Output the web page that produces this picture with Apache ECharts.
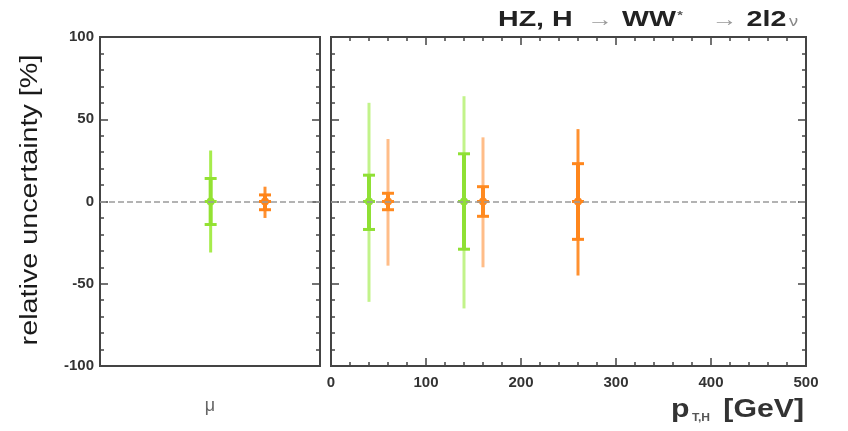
<!DOCTYPE html>
<html><head><meta charset="utf-8">
<script src="https://cdn.jsdelivr.net/npm/echarts@6/dist/echarts.min.js"></script>
<style>html,body{margin:0;padding:0;background:#fff}#c{width:848px;height:431px}</style>
</head><body><div id="c"></div>
<script>
// ---- data ----
const yTicks = [-100, -50, 0, 50, 100];
const xTicks = [0, 100, 200, 300, 400, 500];
// left panel (mu): [position, outerLo, outerHi, innerLo, innerHi]
const muGreen = [[0.503, -31, 31, -14, 14]];
const muOrange = [[0.75, -10, 9, -5, 4]];
// right panel (pT,H)
const ptGreenPos = [40, 140];
const ptGreenOuterLo = [-61, -65];
const ptGreenOuterHi = [60, 64];
const ptGreenInnerLo = [-17, -29];
const ptGreenInnerHi = [16, 29];
const ptOrangePos = [60, 160];
const ptOrangeOuterLo = [-39, -40];
const ptOrangeOuterHi = [38, 39];
const ptOrangeInnerLo = [-5, -9];
const ptOrangeInnerHi = [5, 9];
const ptOrangeDarkPos = [260];
const ptOrangeDarkOuterLo = [-45];
const ptOrangeDarkOuterHi = [44];
const ptOrangeDarkInnerLo = [-23];
const ptOrangeDarkInnerHi = [23];

function rows(pos, ol, oh, il, ih) { return pos.map((p, i) => [p, ol[i], oh[i], il[i], ih[i]]); }

function render(outerColor, innerColor) {
  return function (params, api) {
    const x = api.value(0);
    const c = api.coord([x, 0]);
    const oL = api.coord([x, api.value(1)])[1], oH = api.coord([x, api.value(2)])[1];
    const iL = api.coord([x, api.value(3)])[1], iH = api.coord([x, api.value(4)])[1];
    const cx = c[0];
    return {type: 'group', children: [
      {type: 'line', shape: {x1: cx, y1: oL, x2: cx, y2: oH}, style: {stroke: outerColor, lineWidth: 3}},
      {type: 'line', shape: {x1: cx, y1: iL, x2: cx, y2: iH}, style: {stroke: innerColor, lineWidth: 4}},
      {type: 'line', shape: {x1: cx - 6, y1: iL, x2: cx + 6, y2: iL}, style: {stroke: innerColor, lineWidth: 3}},
      {type: 'line', shape: {x1: cx - 6, y1: iH, x2: cx + 6, y2: iH}, style: {stroke: innerColor, lineWidth: 3}},
      {type: 'line', shape: {x1: cx - 6, y1: c[1], x2: cx + 6, y2: c[1]}, style: {stroke: innerColor, lineWidth: 3}},
      {type: 'circle', shape: {cx: cx, cy: c[1], r: 4}, style: {fill: innerColor}}
    ]};
  };
}

const axisCol = '#444';
const tickStyle = {show: true, inside: true, length: 8, lineStyle: {color: axisCol, width: 1.5}};
const minorStyle = {show: true, splitNumber: 5, length: 4, lineStyle: {color: axisCol, width: 1.5}};
function yAx(grid, pos, labels) {
  return {
    type: 'value', gridIndex: grid, position: pos, min: -100, max: 100, interval: 50,
    axisLine: {show: false, onZero: false},
    axisTick: tickStyle, minorTick: minorStyle,
    splitLine: {show: false},
    axisLabel: {show: labels, margin: 6, color: '#333', fontWeight: 'bold', fontSize: 15, fontFamily: 'Liberation Sans'}
  };
}

const zeroLine = {silent: true, symbol: 'none', label: {show: false},
  lineStyle: {color: '#9a9a9a', type: [6, 3], width: 1.5}, data: [{yAxis: 0}]};

const option = {
  animation: false,
  backgroundColor: '#fff',
  grid: [
    {left: 100, top: 37, width: 220, height: 329, show: true, borderColor: axisCol, borderWidth: 2, backgroundColor: 'transparent'},
    {left: 331, top: 37, width: 475, height: 329, show: true, borderColor: axisCol, borderWidth: 2, backgroundColor: 'transparent'}
  ],
  xAxis: [
    {type: 'value', gridIndex: 0, min: 0, max: 1, axisLine: {show: false, onZero: false}, axisTick: {show: false}, axisLabel: {show: false}, splitLine: {show: false}},
    {type: 'value', gridIndex: 1, position: 'bottom', min: 0, max: 500, interval: 100,
      axisLine: {show: false, onZero: false},
      axisTick: tickStyle, minorTick: minorStyle,
      splitLine: {show: false},
      axisLabel: {margin: 9, color: '#333', fontWeight: 'bold', fontSize: 15, fontFamily: 'Liberation Sans'}},
    {type: 'value', gridIndex: 1, position: 'top', min: 0, max: 500, interval: 100,
      axisLine: {show: false, onZero: false},
      axisTick: tickStyle, minorTick: minorStyle,
      splitLine: {show: false}, axisLabel: {show: false}}
  ],
  yAxis: [yAx(0, 'left', true), yAx(0, 'right', false), yAx(1, 'left', false), yAx(1, 'right', false)],
  series: [
    {type: 'custom', xAxisIndex: 0, yAxisIndex: 0, renderItem: render('#a6ec4c', '#93e232'), data: muGreen, markLine: zeroLine, z: 3},
    {type: 'custom', xAxisIndex: 0, yAxisIndex: 0, renderItem: render('#ff9030', '#ff8418'), data: muOrange, z: 3},
    {type: 'custom', xAxisIndex: 1, yAxisIndex: 2, renderItem: render('#c2f38a', '#8fe034'),
      data: rows(ptGreenPos, ptGreenOuterLo, ptGreenOuterHi, ptGreenInnerLo, ptGreenInnerHi), markLine: zeroLine, z: 3},
    {type: 'custom', xAxisIndex: 1, yAxisIndex: 2, renderItem: render('#ffbd88', '#ff8a20'),
      data: rows(ptOrangePos, ptOrangeOuterLo, ptOrangeOuterHi, ptOrangeInnerLo, ptOrangeInnerHi), z: 3},
    {type: 'custom', xAxisIndex: 1, yAxisIndex: 2, renderItem: render('#ff9130', '#ff861c'),
      data: rows(ptOrangeDarkPos, ptOrangeDarkOuterLo, ptOrangeDarkOuterHi, ptOrangeDarkInnerLo, ptOrangeDarkInnerHi), z: 3}
  ],
  graphic: [
    {type: 'text', x: 498, y: 20, scaleX: 1.3, style: {
      text: '{b|HZ, H}{a1|→}{b|WW}{s|*}{a2|→}{b|2l2}{n|ν}',
      verticalAlign: 'middle',
      rich: {
        b: {fontSize: 22, fontWeight: 'bold', fill: '#222', fontFamily: 'Liberation Sans'},
        a1: {fontSize: 20, fill: '#999', fontFamily: 'Liberation Sans', padding: [0, 7, 0, 11]},
        a2: {fontSize: 20, fill: '#999', fontFamily: 'Liberation Sans', padding: [0, 7, 0, 22]},
        s: {fontSize: 11, fill: '#555', fontWeight: 'bold', padding: [0, 0, 8, 1]},
        n: {fontSize: 14, fill: '#888', fontFamily: 'Liberation Sans', padding: [4, 0, 0, 2]}
      }}},
    {type: 'text', x: 31, y: 200, rotation: Math.PI / 2, scaleX: 1.25, style: {
      text: 'relative uncertainty [%]', fontSize: 23, fill: '#1a1a1a', fontFamily: 'Liberation Sans',
      align: 'center', verticalAlign: 'middle'}},
    {type: 'text', x: 210, y: 406, style: {text: 'μ', fontSize: 18, fill: '#666', align: 'center', verticalAlign: 'middle', fontFamily: 'Liberation Sans'}},
    {type: 'text', x: 671, y: 410, scaleX: 1.21, style: {
      text: '{p|p}{t|T,H}{g|[GeV]}',
      verticalAlign: 'middle',
      rich: {
        p: {fontSize: 25, fontWeight: 'bold', fill: '#333', fontFamily: 'Liberation Sans'},
        t: {fontSize: 10, fontWeight: 'bold', fill: '#555', fontFamily: 'Liberation Sans', padding: [16, 11, 0, 2]},
        g: {fontSize: 25, fontWeight: 'bold', fill: '#333', fontFamily: 'Liberation Sans'}
      }}}
  ]
};
echarts.init(document.getElementById('c'), null, {renderer: 'canvas'}).setOption(option);
</script></body></html>
